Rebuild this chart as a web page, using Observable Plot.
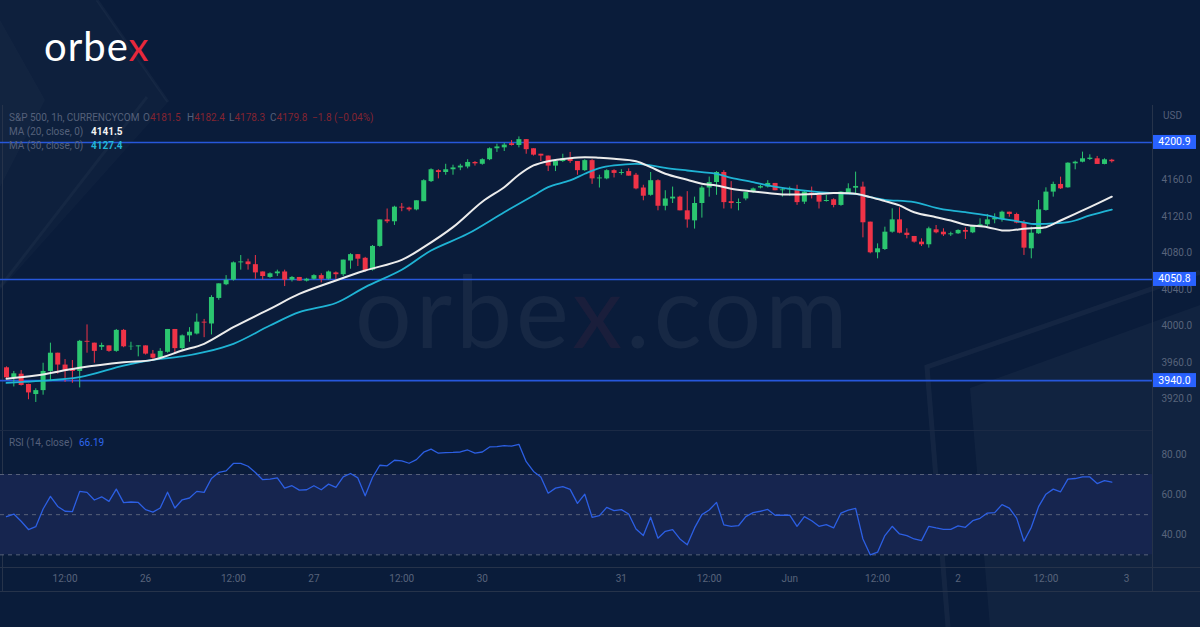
<!DOCTYPE html>
<html><head><meta charset="utf-8">
<script src="https://cdn.jsdelivr.net/npm/d3@7"></script>
<script src="https://cdn.jsdelivr.net/npm/@observablehq/plot@0.6"></script>
<style>
html,body{margin:0;padding:0;background:#0a1c3a;}
#wrap{position:relative;width:1200px;height:627px;overflow:hidden;background:#0a1c3a;font-family:Roboto,"Noto Sans",sans-serif;}
#deco{position:absolute;left:0;top:0;}
.abs{position:absolute;white-space:nowrap;font-size:10px;line-height:12px;}
.g{color:#55607a}
.r{color:#832431}
#price,#rsi{position:absolute;left:0;}
#price{top:105px}
#rsi{top:430px}
.ln{position:absolute;background:#26334a;}
</style></head>
<body>
<div id="wrap">
<svg id="deco" width="1200" height="627">
  <polygon points="0,0 97,0 168,102 0,290" fill="rgba(255,255,255,0.02)"/>
  <polygon points="0,20 45,100 0,187" fill="rgba(255,255,255,0.02)"/>
  <line x1="0" y1="287" x2="147" y2="97" stroke="rgba(255,255,255,0.03)" stroke-width="3"/>
  <line x1="97" y1="0" x2="168" y2="102" stroke="rgba(255,255,255,0.03)" stroke-width="3"/>
  <polyline points="948,627 927,367 1200,272" fill="none" stroke="rgba(255,255,255,0.045)" stroke-width="5"/>
  <polygon points="970,388 1200,305 1200,627 990,627" fill="rgba(255,255,255,0.03)"/>
  <text x="355" y="348" font-family="Lato" font-weight="400" font-size="100" letter-spacing="4" fill="rgba(255,255,255,0.055)">orbe<tspan fill="rgba(235,60,80,0.07)">x</tspan>.com</text>
</svg>
<div class="abs" style="left:44px;top:22px;font-family:Lato;font-size:40px;line-height:48px;color:#fff;letter-spacing:1px;">orbe<span style="color:#e8283c">x</span></div>
<div class="ln" style="left:2px;top:105px;width:1px;height:486px"></div>
<div class="ln" style="left:1152px;top:105px;width:1px;height:486px"></div>
<div class="ln" style="left:0;top:430px;width:1152px;height:1px;background:#1b2a45"></div>
<div class="ln" style="left:0;top:567px;width:1200px;height:1px"></div>
<div class="ln" style="left:0;top:591px;width:1200px;height:1px"></div>
<div id="price"></div>
<div id="rsi"></div>
<div class="abs g" style="left:9px;top:112px">S&amp;P 500, 1h, CURRENCYCOM</div>
<div class="abs g" style="left:143px;top:112px">O<span class="r">4181.5</span></div>
<div class="abs g" style="left:187px;top:112px">H<span class="r">4182.4</span></div>
<div class="abs g" style="left:229px;top:112px">L<span class="r">4178.3</span></div>
<div class="abs g" style="left:270px;top:112px">C<span class="r">4179.8</span></div>
<div class="abs r" style="left:312px;top:112px">−1.8 (−0.04%)</div>
<div class="abs g" style="left:9px;top:126px">MA (20, close, 0)</div>
<div class="abs" style="left:91px;top:126px;color:#f2f2f2;font-weight:bold">4141.5</div>
<div class="abs g" style="left:9px;top:140px">MA (30, close, 0)</div>
<div class="abs" style="left:91px;top:140px;color:#22b4d6;font-weight:bold">4127.4</div>
<div class="abs g" style="left:1163px;top:110px">USD</div>
<div class="abs g" style="left:9px;top:437px">RSI (14, close)</div>
<div class="abs" style="left:79px;top:437px;color:#2e67ee">66.19</div>
</div>
<script>
// ---- data (1h bars, 25 May – 2 Jun) ----
const opens = [3954,3943,3947,3935.7,3924.7,3929,3950,3970,3957,3952,
 3950,3983,3981,3976.5,3978,3972,3995,3977,3977,3978,
 3969,3964.5,3971,3996,3975,3989,3991,4004,4002,4030,
 4045,4050,4069,4070,4067,4059,4053,4057,4059,4050,
 4053,4049,4051,4055,4051,4058,4056,4071,4078,4074,
 4061,4087,4116,4114,4130,4129,4127,4136,4158,4170,
 4168,4171,4173,4174,4179,4177,4182,4194,4195,4199.5,
 4197.6,4204,4194,4188,4186,4175,4180,4183,4180,4170,
 4181,4161,4161,4170,4167,4169,4165,4151,4143,4159,
 4131,4139,4141,4126,4115,4134,4151,4157,4168,4136,
 4134,4139,4146,4151,4152,4156,4148,4149,4149,4135.5,
 4145.4,4142.8,4136.2,4138.1,4131.9,4144.6,4150.8,4152,4113.6,4080,
 4083.6,4102.6,4116.1,4101.5,4097.9,4091.7,4088.8,4105.2,4102.6,4099.7,
 4100.8,4104.5,4101.9,4108.8,4110.7,4116.1,4116.5,4124.5,4122,4112.5,
 4084.4,4100.8,4126.4,4146.5,4154.9,4151.2,4177.5,4179.3,4182.3,4183,
 4176.8,4181.5];
const highs = [3955,3950,3951,3936,3931,3959,3981,3970,3963,3962,
 3984,4001,3981,3981,3978,3996,3996,3982,3978,3978,
 3973,3975,3996,3996,3990,3998,4013,4007,4033,4046,
 4055,4070,4077,4073,4077,4059,4058,4061,4061,4054,
 4053,4052,4056,4057,4060,4059,4072,4079,4078,4075,
 4088,4116,4128,4131,4134,4130,4137,4160,4172,4171,
 4177,4176,4177,4182,4180,4183,4195,4199,4200,4203,
 4207,4204,4194,4188,4186,4182,4188,4190,4180,4182,
 4182,4165,4171,4171,4171,4172,4167,4154,4168,4160,
 4148,4152,4142,4147,4141,4153,4163,4169,4170,4158,
 4139,4146,4151,4154,4159,4156,4151,4152,4154,4147.5,
 4152,4143,4142.8,4139.2,4147,4155.6,4168.4,4157.4,4113.6,4089.8,
 4108.1,4128.2,4129.3,4106.3,4097.9,4095.3,4108.1,4109.9,4106.3,4102.6,
 4105.2,4107.4,4109.9,4117.2,4122,4122.7,4125.6,4124.5,4123.4,4115.4,
 4108.1,4137.3,4151.2,4157.4,4162.9,4178.6,4180.4,4190.3,4187.4,4185.6,
 4183,4182.4];
const lows = [3942,3933,3934,3919,3916,3924,3940,3947,3938,3937,
 3932,3970,3959,3973,3971,3971,3976,3973,3966,3968,
 3963,3963,3970,3970,3972,3982,3990,3987,3990,4028,
 4044,4049,4061,4061,4051,4050,4052,4054,4043,4048,
 4049,4048,4050,4047,4050,4051,4054,4062,4065,4059,
 4060,4086,4112,4110,4125,4125,4126,4136,4157,4161,
 4165,4165,4170,4172,4175,4176,4181,4190,4191,4197,
 4195,4188,4186,4180,4169,4169,4179,4178,4165,4169,
 4155,4151,4160,4162,4165,4164,4149,4137,4142,4126,
 4126,4134,4126,4107,4106,4118,4141,4143,4128,4128,
 4126,4137,4145,4150,4151,4148,4141,4142,4132,4133,
 4139,4128,4135.5,4129.3,4131,4144,4144.6,4096.4,4078.9,4073.4,
 4082.5,4101.5,4100.8,4095.3,4090.6,4086.9,4085.1,4100.8,4097.9,4097.9,
 4100.1,4094.6,4101,4108.1,4108.1,4111.8,4113.6,4119,4111.8,4077.1,
 4073.4,4100.1,4125.6,4141,4149.4,4150.8,4170.9,4178.6,4181.2,4176.8,
 4176.4,4178.3];
const closes = [3943,3947.4,3934.6,3926.5,3929,3950,3970,3957,3950,3950,
 3983,3982,3972,3978.4,3972,3995,3977,3977.5,3978,3969,
 3964.5,3972,3996,3975,3989,3993,4004,4003,4031,4046,
 4050,4069,4070,4067,4058,4054,4057,4059,4050,4053,
 4049,4051,4055,4051,4059,4056,4072,4078,4073,4060,
 4087,4116,4114,4130,4129,4127,4137,4159,4171,4168,
 4171,4173,4175,4179,4177.5,4182,4194,4196,4198,4197.6,
 4204,4193,4187,4186,4175,4180,4183,4180,4170,4181,
 4161,4162,4170,4167,4168,4164,4150,4142,4159,4131,
 4139,4141,4126,4116,4134,4151,4157,4168,4135,4134,
 4135,4146,4150,4152.5,4156,4148,4149,4150,4135,4146.5,
 4142.8,4135.5,4137.3,4131.9,4146.5,4150.1,4152.7,4112.9,4080,4084.4,
 4102.6,4116.1,4101.5,4099,4091.7,4088.8,4106.3,4101.9,4099.7,4100.8,
 4104.5,4102.6,4109.2,4110.7,4116.1,4118,4124.5,4122,4112.5,4085.1,
 4101.5,4127.1,4146.5,4154.9,4150.1,4178.2,4179.3,4183,4183.7,4176.8,
 4181.9,4179.8];

const ma20Bars = [0,4,10,16,20,24,27,31,36,40,45,49,54,57,61,65,68,70,72,74,77,79,81,83,86,88,90,93,95,97,99,102,104,106,111,113,116,118,120,122,124,127,129,131,134,136,137,139,140,142,144,146,148,151];
const ma20Vals = [3942,3945.5,3954,3960,3962.7,3972.9,3980.3,3998.5,4018.6,4035,4049.7,4060.6,4072.3,4086.2,4108.1,4136,4151.9,4165.5,4175.7,4180.4,4183.7,4184.8,4184.1,4183,4180.4,4173.9,4166.6,4160,4155.6,4153.8,4150.1,4147.2,4145.4,4143.9,4144.6,4145.4,4144.6,4141,4136.6,4131.9,4124.5,4119,4115.4,4110.7,4108.1,4104.5,4104.5,4106.3,4107,4108.1,4115.4,4122.7,4130.1,4141.5];
const ma30Bars = [0,4,10,16,20,24,27,31,36,40,45,49,54,58,63,68,72,74,77,79,81,83,86,88,90,93,95,97,99,102,104,106,111,113,116,118,120,124,127,129,131,134,136,138,140,142,145,146,148,151];
const ma30Vals = [3937.5,3939.3,3943.7,3956.5,3962.7,3966.4,3971.1,3980.3,4000.3,4015,4025,4042.4,4061.4,4082.5,4100.8,4124.5,4142.8,4152,4159.3,4166.6,4172.8,4175.7,4177.5,4175.7,4173.1,4170.2,4168.4,4166.6,4162.2,4157.4,4153.8,4151.2,4146.5,4145.4,4144.6,4141,4138.1,4135.5,4129.3,4126.4,4124.5,4120.9,4117.2,4114.7,4111.8,4111.8,4113.6,4115.4,4120.9,4127.4];

const rsiVals = [49.0,50.3,46.7,42.6,44.0,52.8,59.1,54.1,51.7,51.5,
 61.6,61.1,57.3,58.9,56.6,62.7,56.0,56.3,56.1,52.5,
 51.3,53.3,61.2,53.3,57.4,58.3,61.6,61.1,68.0,71.0,
 71.8,75.5,75.5,74.1,71.0,67.4,67.7,68.3,63.2,64.4,
 62.2,62.4,64.4,62.4,65.2,63.6,68.8,70.5,68.3,59.4,
 68.5,74.6,74.3,77.1,76.8,75.6,77.4,81.1,82.6,80.6,
 80.9,81.0,81.2,82.2,80.6,81.2,83.7,83.9,84.4,84.1,
 85.0,76.4,71.5,68.8,60.7,63.2,64.0,62.6,55.6,60.2,
 48.7,49.5,53.6,52.0,52.5,50.3,42.9,39.6,48.7,38.3,
 41.7,42.6,37.9,35.0,43.4,50.0,52.3,56.1,44.9,44.2,
 44.5,49.0,51.0,51.7,52.6,49.7,49.7,49.8,44.2,49.0,
 47.0,44.2,45.0,43.4,50.8,52.3,53.1,37.9,30.0,31.3,
 39.6,44.2,40.4,39.6,37.9,37.1,44.2,43.4,42.7,42.7,
 44.4,43.7,47.0,48.2,50.8,51.0,55.0,53.3,48.3,36.8,
 43.7,54.0,60.2,62.7,61.4,67.7,68.0,68.8,68.8,65.5,
 66.9,66.19];

const levels = [4200.9, 4050.8, 3940.0];
const priceTicks = [3920,3960,4000,4040,4080,4120,4160];
const rsiTicks = [40,60,80];
const rsiGuides = [30,50,70];
const rsiBand = [{lo:30, hi:70}];
const timeBars = [8,19,31,42,54,65,84,96,107,119,130,142,153];
const timeLabels = ["12:00","26","12:00","27","12:00","30","31","12:00","Jun","12:00","2","12:00","3"];

// ---- build ----
const GREEN = "#2bc670", RED = "#ef3347";
const candles = opens.map((o,i)=>({i, o, h:highs[i], l:lows[i], c:closes[i], up: closes[i] >= o}));
const ma20 = ma20Bars.map((b,k)=>({i:b, v:ma20Vals[k]}));
const ma30 = ma30Bars.map((b,k)=>({i:b, v:ma30Vals[k]}));
const rsi = rsiVals.map((v,i)=>({i, v}));
const xDomain = [-0.82, 156.56];
const TXT = "#58637b";

const priceChart = Plot.plot({
  width:1200, height:325, marginTop:0, marginBottom:0, marginLeft:0, marginRight:48,
  x:{domain:xDomain, axis:null},
  y:{domain:[3885.3,4241.4], axis:null},
  style:{background:"transparent", overflow:"visible", fontFamily:"Roboto"},
  marks:[
    Plot.ruleY(levels, {stroke:"#2757db", strokeWidth:1.6}),
    Plot.ruleX(candles, {x:"i", y1:"l", y2:"h", stroke:d=>d.up?GREEN:RED, strokeWidth:1}),
    Plot.ruleX(candles, {x:"i", y1:"o", y2:"c", stroke:d=>d.up?GREEN:RED, strokeWidth:5}),
    Plot.line(ma30, {x:"i", y:"v", stroke:"#1fb3d4", strokeWidth:1.8, curve:"catmull-rom"}),
    Plot.line(ma20, {x:"i", y:"v", stroke:"#ececec", strokeWidth:2, curve:"catmull-rom"}),
    Plot.text(priceTicks, {y:d=>d, text:d=>d.toFixed(1), frameAnchor:"right", textAnchor:"start", dx:9, fill:TXT, fontSize:10})
  ]
});
document.getElementById("price").appendChild(priceChart);

// level boxes on the price scale
const ys = priceChart.scale("y");
const svgP = d3.select(priceChart);
levels.forEach(v=>{
  const y = ys.apply(v);
  svgP.append("rect").attr("x",1153).attr("y",y-7).attr("width",43).attr("height",14).attr("fill","#2962ff");
  svgP.append("text").attr("x",1174.5).attr("y",y+3.5).attr("text-anchor","middle")
    .attr("fill","#ffffff").attr("font-size",10.5).attr("font-family","Roboto").text(v.toFixed(1));
});

const rsiChart = Plot.plot({
  width:1200, height:161, marginTop:0, marginBottom:24, marginLeft:0, marginRight:48,
  x:{domain:xDomain, axis:null},
  y:{domain:[23.7,91.9], axis:null},
  style:{background:"transparent", overflow:"visible", fontFamily:"Roboto"},
  marks:[
    Plot.rect(rsiBand, {y1:"lo", y2:"hi", fill:"#16254f"}),
    Plot.ruleY(rsiGuides, {stroke:"#58627a", strokeDasharray:"4,4", strokeWidth:1}),
    Plot.line(rsi, {x:"i", y:"v", stroke:"#2c5fe3", strokeWidth:1.3}),
    Plot.text(rsiTicks, {y:d=>d, text:d=>d.toFixed(2), frameAnchor:"right", textAnchor:"start", dx:9, fill:TXT, fontSize:10}),
    Plot.axisX(timeBars, {anchor:"bottom", tickSize:0, tickPadding:7, tickFormat:d=>timeLabels[timeBars.indexOf(d)], fill:TXT, fontSize:10, label:null})
  ]
});
document.getElementById("rsi").appendChild(rsiChart);
</script>
</body></html>
